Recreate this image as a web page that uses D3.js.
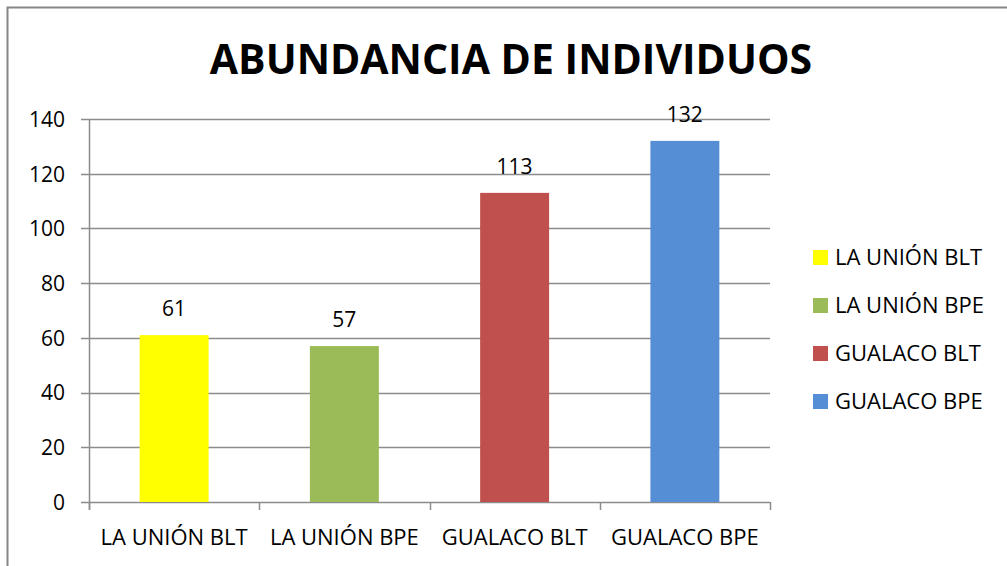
<!DOCTYPE html>
<html>
<head>
<meta charset="utf-8">
<script src="https://cdn.jsdelivr.net/npm/d3@7"></script>
<style>
  body { margin: 0; background: #fff; }
  text { font-family: "Open Sans", sans-serif; fill: #000; }
</style>
</head>
<body>
<script>
const categories = ["LA UNIÓN BLT", "LA UNIÓN BPE", "GUALACO BLT", "GUALACO BPE"];
const values = [61, 57, 113, 132];
const colors = ["#ffff00", "#9bbb59", "#c0504d", "#558ed5"];
const yTicks = [0, 20, 40, 60, 80, 100, 120, 140];
const title = "ABUNDANCIA DE INDIVIDUOS";

const W = 1007, H = 566;
const plot = { left: 89, right: 770, top: 119, bottom: 502 };

const svg = d3.select("body").append("svg")
  .attr("width", W)
  .attr("height", H);

// chart frame
svg.append("rect")
  .attr("x", 7.5).attr("y", 7.5)
  .attr("width", W + 10).attr("height", H + 10)
  .attr("fill", "#fff")
  .attr("stroke", "#868686")
  .attr("stroke-width", 2);

svg.append("text")
  .attr("x", 511).attr("y", 74)
  .attr("text-anchor", "middle")
  .attr("font-size", 41)
  .attr("font-weight", "bold")
  .text(title);

const x = d3.scaleBand()
  .domain(categories)
  .range([plot.left, plot.right])
  .paddingInner(0.595)
  .paddingOuter(0.2975);

const y = d3.scaleLinear()
  .domain([0, 140])
  .range([plot.bottom, plot.top]);

// gridlines
svg.append("g")
  .selectAll("line")
  .data(yTicks)
  .join("line")
  .attr("x1", plot.left - 8).attr("x2", plot.right)
  .attr("y1", d => Math.round(y(d)) + 0.5).attr("y2", d => Math.round(y(d)) + 0.5)
  .attr("stroke", "#8c8c8c")
  .attr("stroke-width", 1.5);

// y axis
const yAxis = svg.append("g")
  .attr("transform", `translate(${plot.left},0)`)
  .call(d3.axisLeft(y).tickValues(yTicks).tickSize(0).tickPadding(24));
yAxis.select(".domain").attr("stroke", "#8c8c8c").attr("stroke-width", 1.5)
  .attr("d", `M0.5,${plot.top}V${plot.bottom + 8}`);
yAxis.selectAll("text").attr("font-size", 21).attr("font-family", "Open Sans").attr("dy", "0.35em");

// x axis category ticks
const bounds = categories.map((c, i) => plot.left + i * (plot.right - plot.left) / categories.length);
bounds.push(plot.right);
svg.append("g")
  .selectAll("line")
  .data(bounds)
  .join("line")
  .attr("x1", d => Math.round(d) + 0.5).attr("x2", d => Math.round(d) + 0.5)
  .attr("y1", plot.bottom).attr("y2", plot.bottom + 8)
  .attr("stroke", "#8c8c8c")
  .attr("stroke-width", 1.5);

svg.append("g")
  .selectAll("text")
  .data(categories)
  .join("text")
  .attr("x", d => x(d) + x.bandwidth() / 2)
  .attr("y", 545)
  .attr("text-anchor", "middle")
  .attr("font-size", 22)
  .text(d => d);

// bars
svg.append("g")
  .selectAll("rect")
  .data(values)
  .join("rect")
  .attr("x", (d, i) => x(categories[i]))
  .attr("y", d => y(d))
  .attr("width", x.bandwidth())
  .attr("height", d => plot.bottom - y(d))
  .attr("fill", (d, i) => colors[i]);

// value labels
svg.append("g")
  .selectAll("text")
  .data(values)
  .join("text")
  .attr("x", (d, i) => x(categories[i]) + x.bandwidth() / 2)
  .attr("y", d => y(d) - 19)
  .attr("text-anchor", "middle")
  .attr("font-size", 21)
  .text(d => d);

// legend
const legend = svg.append("g")
  .selectAll("g")
  .data(categories)
  .join("g")
  .attr("transform", (d, i) => `translate(813,${257 + i * 48})`);
legend.append("rect")
  .attr("x", 0).attr("y", -7)
  .attr("width", 15).attr("height", 15)
  .attr("fill", (d, i) => colors[i]);
legend.append("text")
  .attr("x", 22).attr("y", 0)
  .attr("dy", "0.35em")
  .attr("font-size", 22)
  .text(d => d);
</script>
</body>
</html>
